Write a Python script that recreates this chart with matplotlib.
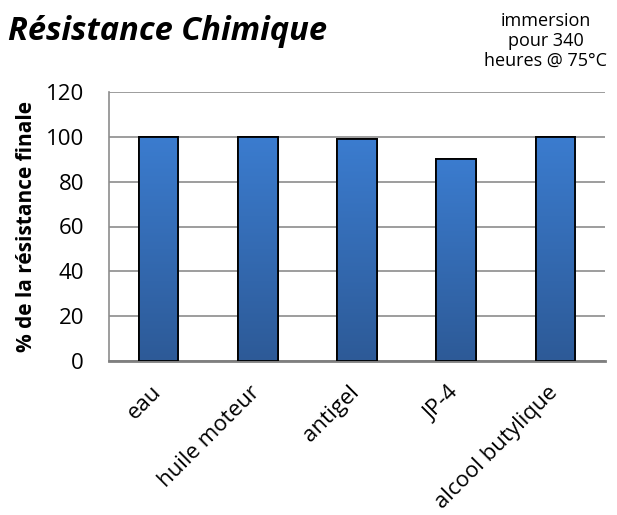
import numpy as np
import matplotlib
matplotlib.use("Agg")
import matplotlib.pyplot as plt
from matplotlib.colors import LinearSegmentedColormap
import matplotlib.transforms as mtrans

categories = ["eau", "huile moteur", "antigel", "JP-4", "alcool butylique"]
values = [100, 100, 99, 90, 100]
yticks = [0, 20, 40, 60, 80, 100, 120]

plt.rcParams['font.family'] = ['Open Sans', 'DejaVu Sans']

fig = plt.figure(figsize=(6.17, 5.15), dpi=100)
ax = fig.add_axes([109/617, 1-361/515, (605-109)/617, (361-92)/515])

x = np.arange(len(categories))
bars = ax.bar(x, values, width=0.4, color='#3a74c0', edgecolor='black', linewidth=1.3, zorder=3)

cmap = LinearSegmentedColormap.from_list('g', ['#2d5a97', '#3b7ccf'])
grad = np.linspace(0, 1, 256).reshape(-1, 1)
for b in bars:
    x0, y0 = b.get_x(), b.get_y()
    w, h = b.get_width(), b.get_height()
    im = ax.imshow(grad, extent=[x0, x0 + w, y0, y0 + h], origin='lower', aspect='auto',
                   cmap=cmap, zorder=3.5, vmin=0, vmax=1)
    im.set_clip_path(b)
    ax.bar(x0 + w/2, h, width=w, bottom=y0, fill=False, edgecolor='black', linewidth=1.3, zorder=4)

ax.set_xlim(-0.5, len(categories) - 0.5)
ax.set_ylim(0, 120)
ax.set_yticks(yticks)
ax.set_yticklabels([str(v) for v in yticks], fontsize=16)
ax.tick_params(axis='y', length=0, pad=18)
ax.tick_params(axis='x', length=0, pad=15)
ax.set_xticks(x)
ax.set_xticklabels(categories, rotation=45, ha='right', rotation_mode='anchor', fontsize=16)
offset = mtrans.ScaledTranslation(-8/100, 0, fig.dpi_scale_trans)
for lab in ax.get_xticklabels():
    lab.set_transform(lab.get_transform() + offset)
ax.grid(axis='y', color='#8c8c8c', linewidth=1.2, zorder=0)
ax.set_axisbelow(True)
for s in ['top', 'right']:
    ax.spines[s].set_visible(False)
ax.spines['left'].set_color('#8c8c8c')
ax.spines['left'].set_linewidth(1.2)
ax.spines['bottom'].set_color('#7f7f7f')
ax.spines['bottom'].set_linewidth(2)

ax.set_ylabel('% de la résistance finale', fontsize=15, fontweight='bold', labelpad=6)

fig.text(8/617, 1-32/515, 'Résistance Chimique', fontsize=23.5, fontweight='bold',
         fontstyle='italic', ha='left', va='center')
fig.text(546/617, 1-41/515, 'immersion\npour 340\nheures @ 75°C', fontsize=13,
         ha='center', va='center', linespacing=1.15)

fig.savefig('out.png', dpi=100)
